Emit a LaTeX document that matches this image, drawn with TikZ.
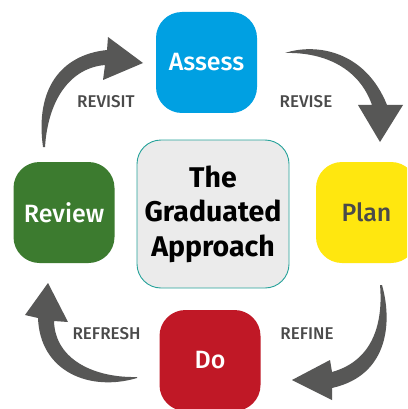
\documentclass[tikz,border=0pt]{standalone}
\usepackage{fontspec}
\setmainfont{Fira Sans}
\newfontfamily\medfont{Fira Sans Medium}
\definecolor{cblue}{HTML}{00A0E2}
\definecolor{cyellow}{HTML}{FFE70F}
\definecolor{cgreen}{HTML}{3C7B2F}
\definecolor{cred}{HTML}{C01826}
\definecolor{cgray}{HTML}{575756}
\definecolor{ltext}{HTML}{4A4A4A}
\definecolor{cfill}{HTML}{EBEBEB}
\definecolor{cteal}{HTML}{26A29A}
\begin{document}
\begin{tikzpicture}[x=1pt,y=-1pt,
  stagebox/.style={rounded corners=26pt, minimum width=101pt, minimum height=101pt, inner sep=0pt, font=\medfont\fontsize{25}{29}\selectfont, text=white},
  centerbox/.style={rounded corners=24pt, draw=cteal, line width=0.9pt, fill=cfill, minimum width=152pt, minimum height=148pt, inner sep=0pt, align=center, font=\bfseries\fontsize{28.5}{34.5}\selectfont},
  steplabel/.style={text=ltext, font=\medfont\fontsize{17}{19}\selectfont, inner sep=0pt},
  bigarrow/.style={fill=cgray, draw=none}]
\useasboundingbox (0,0) rectangle (407,409);
\clip (0,0) rectangle (407,409);
\fill[white] (0,0) rectangle (407,409);
\node[stagebox, fill=cblue] (assess) at (206.5,62.5) {Assess};
\node[stagebox, fill=cyellow, text=ltext] (plan) at (366.5,212.5) {Plan};
\node[stagebox, fill=cgreen] (review) at (64,212.5) {Review};
\node[stagebox, fill=cred] (do) at (210,360.5) {Do};
\node[centerbox] (center) at (213,214) {The\\Graduated\\Approach};
\node[steplabel] (revise) at (306,102) {REVISE};
\node[steplabel] (refine) at (307,334) {REFINE};
\node[steplabel] (refresh) at (106.5,334) {REFRESH};
\node[steplabel] (revisit) at (106,102) {REVISIT};
% Assess -> Plan
\fill[bigarrow] (285,53) .. controls (315,43) and (365,50) .. (387,105)
  -- (403,105) -- (380,142) -- (358,105) -- (372,105)
  .. controls (358,65) and (320,52) .. (285,53) -- cycle;
% Plan -> Do
\fill[bigarrow] (382,285) .. controls (392,320) and (390,375) .. (332,388)
  -- (332,400) -- (292,380) -- (330,360) -- (332,372)
  .. controls (375,360) and (383,320) .. (380,285) -- cycle;
% Do -> Review
\fill[bigarrow] (137,378) .. controls (90,392) and (40,372) .. (38,318)
  -- (25,315) -- (48,283) -- (68,322) -- (54,321)
  .. controls (55,360) and (95,378) .. (137,377) -- cycle;
% Review -> Assess
\fill[bigarrow] (43,147) .. controls (35,90) and (60,55) .. (107,50)
  -- (108,37) -- (143,63) -- (103,80) -- (105,65)
  .. controls (70,68) and (48,100) .. (45,147) -- cycle;
\end{tikzpicture}
\end{document}
